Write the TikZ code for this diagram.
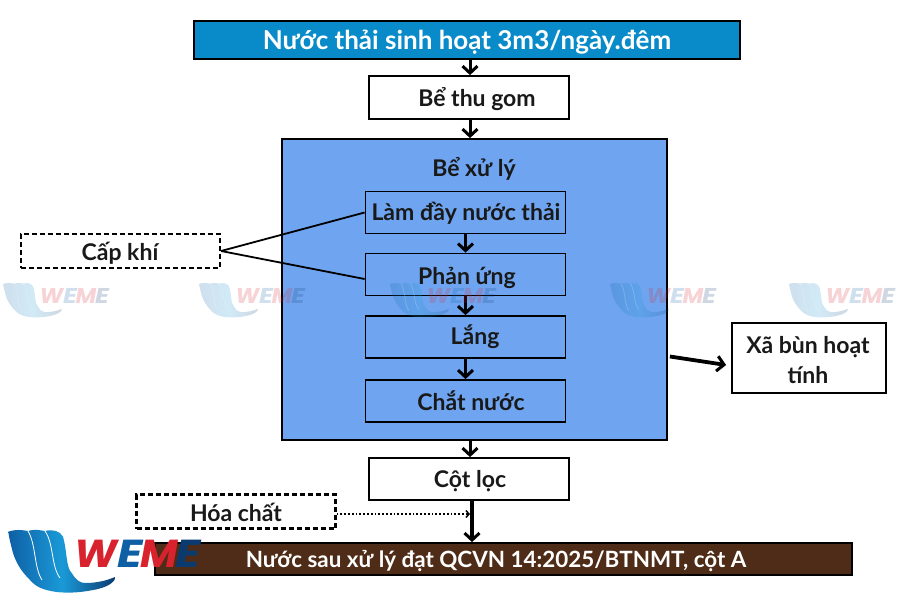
\documentclass[tikz,border=0pt]{standalone}
\usepackage{fontspec}
\setmainfont{Lato}
\newfontfamily\logofont{Poppins}
\usetikzlibrary{arrows.meta}
\definecolor{topblue}{HTML}{0A8BC9}
\definecolor{tankblue}{HTML}{6FA5F0}
\definecolor{brownbar}{HTML}{4F2C17}
\definecolor{logored}{HTML}{D8232F}
\definecolor{logoblue}{HTML}{0F5FA5}
\definecolor{logodark}{HTML}{0B3A6E}
\definecolor{logolight}{HTML}{1A9AD8}
\tikzset{
  x=1pt,y=-1pt,
  box/.style={draw=black,line width=1.8pt,fill=white,minimum width=#1,inner sep=0pt},
  box/.default=200pt,
  dashbox/.style={draw=black,line width=2.1pt,dash pattern=on 5pt off 3pt,fill=white,minimum width=199pt,minimum height=34pt,inner sep=0pt},
  txt/.style={font=\bfseries\fontsize{23}{27}\selectfont,text=black!90,inner sep=0pt},
  flow/.style={draw=black,line width=3pt,-{Straight Barb[length=7pt,width=15pt,line width=3pt]}},
  airline/.style={draw=black,line width=1.8pt},
  dotflow/.style={draw=black,line width=1.8pt,dotted,-{Straight Barb[length=3pt,width=7pt,line width=1.5pt,sep=0pt]}},
  lettr/.style={font=\logofont\bfseries\itshape\fontsize{39}{39}\selectfont,inner sep=0pt,transform shape},
}
\newcommand{\wemelogo}[4]{%
  \begin{scope}[shift={(#1,#2)},scale=#3,opacity=#4,transform shape]
    \path[left color=logoblue,right color=logodark,middle color=logolight]
      (0.3,1.7) .. controls (8,-1) and (14,0) .. (20,1)
      .. controls (26,-1) and (31,0) .. (37,1)
      .. controls (45,-1) and (52,1) .. (55,6.7)
      .. controls (59,20) and (58,38) .. (63.7,43)
      .. controls (68,50) and (72,53) .. (77,53)
      .. controls (90,53) and (100,50) .. (107,47)
      .. controls (108,52) and (98,58) .. (85,60)
      .. controls (70,63) and (58,63) .. (48.7,62)
      .. controls (35,60) and (28,57) .. (22,50)
      .. controls (12,40) and (8,32) .. (5,23)
      .. controls (3,15) and (1,8) .. (0.3,1.7) -- cycle;
    \draw[white,line width=0.8pt] (20,1) .. controls (28,14) and (26,38) .. (34,50);
    \draw[white,line width=0.8pt] (37,1) .. controls (46,14) and (43,36) .. (52,48);
    \node[lettr,text=logored,xscale=1.05] at (88,24) {W};
    \node[lettr,text=logoblue,xscale=1.2] at (122,24) {E};
    \node[lettr,text=logored,xscale=1.05] at (151,24) {M};
    \node[lettr,text=logodark,xscale=1.2] at (180,24) {E};
  \end{scope}}
\begin{document}
\begin{tikzpicture}
\useasboundingbox (0,0) rectangle (900,600);
\fill[white] (0,0) rectangle (900,600);
% nodes
\node[box=546pt,fill=topblue,minimum height=38pt] (top) at (467,40) {};
\node[txt,text=white,font=\bfseries\fontsize{26}{30}\selectfont] (toptxt) at (467,42) {Nước thải sinh hoạt 3m3/ngày.đêm};
\node[box,minimum height=43pt] (thu) at (469,97.5) {};
\node[txt] (thutxt) at (477,99.5) {Bể thu gom};
\node[box=385pt,fill=tankblue,minimum height=301pt] (tank) at (474.5,289.5) {};
\node[txt] (tanktxt) at (474,169) {Bể xử lý};
\node[box=200pt,fill=tankblue,minimum height=42pt] (fill) at (465.5,212.5) {};
\node[txt] (filltxt) at (466,213) {Làm đầy nước thải};
\node[box=200pt,fill=tankblue,minimum height=42pt] (react) at (465.5,274.5) {};
\node[txt] (reacttxt) at (467,277.5) {Phản ứng};
\node[box=200pt,fill=tankblue,minimum height=42pt] (settle) at (465.5,337) {};
\node[txt] (settletxt) at (475,336.5) {Lắng};
\node[box=200pt,fill=tankblue,minimum height=42pt] (decant) at (465.5,401) {};
\node[txt] (decanttxt) at (471,401) {Chắt nước};
\node[box=154pt,minimum height=70pt] (sludge) at (809,358) {};
\node[txt,align=center,font=\bfseries\fontsize{23}{30}\selectfont] (sludgetxt) at (808,360) {Xã bùn hoạt\\tính};
\node[box,minimum height=42pt] (column) at (469,479) {};
\node[txt] (columntxt) at (470,481.5) {Cột lọc};
\node[dashbox] (chem) at (236,511.5) {};
\node[txt] (chemtxt) at (236,512.5) {Hóa chất};
\node[dashbox] (air) at (120.5,251) {};
\node[txt] (airtxt) at (120,253) {Cấp khí};
\node[box=697pt,fill=brownbar,minimum height=32pt] (out) at (503.5,559) {};
\node[txt,text=white,font=\bfseries\fontsize{22.4}{26}\selectfont] (outtxt) at (496,561) {Nước sau xử lý đạt QCVN 14:2025/BTNMT, cột A};
% connectors
\draw[flow] ([xshift=3pt]top.south) -- ([xshift=1pt]thu.north);
\draw[flow] ([xshift=1pt]thu.south) -- ([xshift=-4.5pt]tank.north);
\draw[flow] (fill.south) -- (react.north);
\draw[flow] (react.south) -- (settle.north);
\draw[flow] (settle.south) -- (decant.north);
\draw[flow] ([xshift=-4.5pt]tank.south) -- ([xshift=1pt]column.north);
\draw[flow,line width=3.8pt] ([xshift=3pt]column.south) -- ([xshift=-31.5pt]out.north);
\draw[flow,line width=3.8pt] ([yshift=-2pt]tank.east) ++(2,65) coordinate (sl0) (sl0) -- ([xshift=-5pt,yshift=-7pt]sludge.west);
\draw[airline] (air.east) -- ([yshift=0pt]fill.west);
\draw[airline] (air.east) -- ([yshift=-4.5pt]react.west);
\draw[dotflow] ([yshift=-2.5pt]chem.east) -- ([xshift=1pt,yshift=-2.5pt]chem.east -| column.south);
% logos
\wemelogo{3}{283}{0.55}{0.2}
\wemelogo{199}{283}{0.55}{0.2}
\wemelogo{390}{283}{0.55}{0.2}
\wemelogo{610}{283}{0.55}{0.2}
\wemelogo{789}{283}{0.55}{0.2}
\wemelogo{8}{530}{1}{1}
\end{tikzpicture}
\end{document}
